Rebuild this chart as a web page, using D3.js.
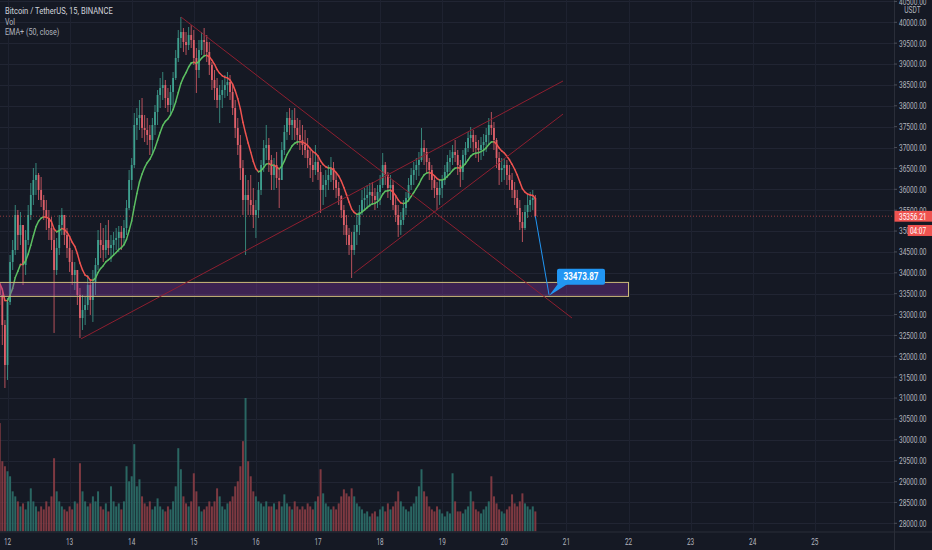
<!DOCTYPE html>
<html>
<head>
<meta charset="utf-8">
<script src="https://cdn.jsdelivr.net/npm/d3@7"></script>
<style>
  html, body { margin: 0; padding: 0; background: #151924; }
  svg { display: block; }
</style>
</head>
<body>
<svg id="chart" width="932" height="550"></svg>
<script>
const W = 932, H = 550;
const PLOT_R = 894, PLOT_B = 531.5;

// First bar opens Jun 11 21:00; one bar per hour after that.
const START_DAY = 11.875;
const FIRST_OPEN = 33700;

const HIGH = [
  33756, 33588, 32870, 33397, 34427, 34786, 35624, 35504, 35457, 35145,
  35025, 35624, 36151, 36510, 36630, 36391, 36295, 35864, 35744, 35504,
  35337, 35025, 34834, 35385, 35552, 35385, 35073, 34834, 34546, 34259,
  34067, 33636, 33469, 33421, 33948, 33828, 34067, 34355, 35025, 35193,
  35073, 35145, 35265, 34906, 34978, 35073, 35121, 35121, 35265, 35744,
  36462, 36750, 37828, 37947, 38139, 38187, 37780, 37708, 37540, 37708,
  38019, 38378, 38666, 38810, 38618, 38426, 38498, 38810, 39336, 39815,
  40127, 39863, 39768, 39887, 39935, 39815, 39384, 39576, 39768, 39863,
  39696, 39528, 39049, 38857, 38666, 38498, 38618, 38738, 38810, 38738,
  38498, 38139, 37708, 37301, 36702, 36343, 36223, 36343, 36031, 35744,
  36175, 36702, 37181, 37540, 37229, 36822, 36750, 36894, 36462, 37133,
  37540, 37852, 37947, 37899, 37947, 37708, 37660, 37540, 37420, 37229,
  36989, 36894, 37061, 36822, 36582, 36343, 36462, 36582, 36774, 36654,
  36415, 36175, 35864, 35624, 35385, 35073, 34978, 35145, 35385, 35624,
  35983, 36031, 36103, 36151, 36175, 36031, 36103, 36343, 36870, 36654,
  36415, 36343, 36223, 35864, 35624, 35457, 35744, 35936, 36271, 36510,
  36654, 36750, 36894, 37468, 37181, 36989, 36750, 36582, 36343, 36175,
  36223, 36343, 36582, 36822, 36941, 37061, 37181, 36941, 36702, 36941,
  37133, 37373, 37492, 37420, 37301, 37181, 37253, 37325, 37468, 37708,
  37852, 37612, 37229, 36894, 36750, 36750, 36702, 36582, 36391, 36175,
  35983, 35744, 35457, 35624, 35864, 35936, 35983, 35864
];

const LOW = [
  33229, 32271, 31241, 31433, 33229, 34067, 34427, 34546, 34666, 33708,
  33948, 34666, 35265, 35624, 35864, 35744, 35576, 35265, 35025, 34786,
  34546, 32559, 33948, 34427, 34906, 34666, 34355, 34020, 33708, 33588,
  33229, 32439, 32630, 32750, 33109, 32990, 32822, 33469, 34067, 34355,
  34259, 34355, 34427, 34259, 34427, 34546, 34499, 34546, 34666, 34906,
  35504, 35983, 36510, 37181, 37420, 37229, 37133, 37061, 36822, 36822,
  37301, 37540, 37947, 38139, 37947, 37852, 37780, 37899, 38618, 39049,
  39384, 39289, 39217, 39336, 39384, 38977, 38307, 38666, 39217, 39217,
  39049, 38738, 38378, 38139, 37947, 37588, 37947, 38187, 38235, 38139,
  37780, 37229, 36822, 36223, 35385, 34427, 35385, 35385, 35073, 34834,
  35313, 35864, 36415, 36702, 36415, 35983, 35983, 36031, 35552, 36223,
  36822, 37181, 37301, 37181, 37181, 37061, 36941, 36822, 36750, 36510,
  36271, 36175, 36343, 36223, 35433, 35624, 35816, 35983, 36175, 35983,
  35792, 35624, 35313, 34906, 34666, 34427, 33876, 34427, 34666, 34906,
  35385, 35504, 35552, 35576, 35624, 35504, 35552, 35624, 36031, 36103,
  35792, 35744, 35504, 35217, 34858, 34906, 35145, 35385, 35696, 35983,
  36103, 36223, 36319, 36654, 36582, 36415, 36223, 35983, 35792, 35504,
  35624, 35792, 36103, 36271, 36415, 36582, 36654, 36343, 36055, 36223,
  36582, 36894, 36989, 36894, 36750, 36654, 36702, 36798, 36894, 37061,
  37301, 36941, 36510, 36103, 36175, 36223, 36103, 35983, 35792, 35624,
  35385, 35025, 34738, 35025, 35313, 35457, 35504, 35313
];

const CLOSE = [
  33469, 32750, 31792, 33301, 34259, 34546, 35385, 34906, 35145, 34187,
  34786, 35385, 35864, 36223, 36343, 35983, 35744, 35504, 35313, 35073,
  34786, 34067, 34594, 35145, 35385, 34906, 34594, 34259, 33948, 34067,
  33469, 32918, 33109, 33229, 33708, 33349, 33780, 34187, 34786, 34666,
  34546, 34786, 34594, 34666, 34786, 34834, 34978, 34834, 35073, 35552,
  36223, 36582, 37540, 37708, 37780, 37468, 37420, 37301, 37181, 37540,
  37852, 38259, 38426, 38498, 38187, 38019, 38331, 38666, 39145, 39624,
  39768, 39528, 39456, 39696, 39576, 39145, 38857, 39336, 39576, 39528,
  39289, 38977, 38618, 38426, 38139, 38259, 38378, 38498, 38570, 38331,
  37947, 37468, 37061, 36510, 35744, 35864, 35744, 35624, 35385, 35504,
  35983, 36582, 36989, 37061, 36702, 36343, 36582, 36271, 36223, 36941,
  37373, 37708, 37540, 37660, 37468, 37301, 37181, 37061, 36941, 36750,
  36582, 36462, 36654, 36415, 35983, 36103, 36223, 36343, 36510, 36223,
  36031, 35840, 35504, 35145, 34906, 34666, 34546, 34978, 35145, 35457,
  35744, 35792, 35864, 35936, 35840, 35744, 35936, 36103, 36582, 36343,
  36031, 36103, 35624, 35385, 35145, 35265, 35552, 35792, 36103, 36343,
  36462, 36582, 36702, 36989, 36894, 36654, 36462, 36223, 36031, 35864,
  36031, 36223, 36415, 36654, 36750, 36894, 36822, 36582, 36415, 36822,
  36989, 37229, 37301, 37133, 36989, 36941, 37061, 37133, 37301, 37540,
  37468, 37181, 36750, 36462, 36510, 36582, 36343, 36223, 35983, 35792,
  35552, 35217, 35073, 35457, 35624, 35744, 35792, 35356.21
];

// volume per bar, hundreds of BTC
const VOLUME = [
  108, 70, 65, 60, 55, 40, 35, 30, 25, 28,
  22, 30, 43, 30, 25, 20, 25, 22, 30, 25,
  35, 73, 40, 30, 25, 22, 20, 25, 22, 30,
  28, 68, 40, 30, 25, 28, 35, 30, 40, 25,
  22, 28, 20, 45, 30, 25, 28, 22, 30, 65,
  50, 55, 87, 45, 52, 35, 28, 25, 30, 22,
  25, 33, 25, 22, 20, 25, 22, 30, 45, 83,
  62, 35, 28, 25, 30, 58, 40, 25, 20, 22,
  25, 30, 25, 30, 43, 35, 25, 22, 28, 30,
  35, 45, 50, 65, 90, 133, 70, 55, 40, 35,
  30, 28, 25, 30, 25, 25, 28, 22, 30, 25,
  37, 28, 25, 22, 30, 25, 22, 25, 22, 28,
  25, 22, 30, 35, 62, 38, 28, 25, 22, 25,
  22, 28, 35, 42, 38, 35, 43, 35, 28, 25,
  22, 18, 20, 15, 18, 20, 15, 22, 25, 20,
  28, 22, 25, 30, 40, 30, 25, 22, 20, 25,
  28, 35, 45, 62, 40, 35, 25, 22, 20, 25,
  22, 18, 15, 20, 18, 58, 30, 20, 20, 18,
  22, 25, 40, 30, 22, 20, 18, 22, 25, 30,
  55, 35, 28, 22, 20, 18, 22, 25, 37, 28,
  25, 30, 38, 28, 25, 22, 25, 20
];

const EMA_LEN = 50;          // EMA+ (50, close) on 15m bars
const EMA_SEED = 33800;      // EMA value at the left edge
const LAST_PRICE = 35356.21;
const COUNTDOWN = '04:07';

const PRICE_TICKS = d3.range(28000, 40501, 500);
const DAY_TICKS = d3.range(12, 26);

// drawings: [day, price]
const TREND_LINES = [
  [[14.794, 40127], [21.09, 32917]],
  [[13.184, 32417], [20.945, 38594]],
  [[17.58, 33994], [20.945, 37802]],
];
const ZONE = { from: 11.5, to: 22.0, top: 33770, bottom: 33435 };
const TARGET = { day: 20.72, price: 33473.87 };

const TITLE = 'Bitcoin / TetherUS, 15, BINANCE';

// ---------------------------------------------------------------
const svg = d3.select('#chart');
const FONT = 'Roboto, "Noto Sans", sans-serif';

const x = d3.scaleLinear().domain([12, 25]).range([7.5, 814.8]);
const y = d3.scaleLinear().domain([28000, 40000]).range([523.3, 22.3]);
const yVol = d3.scaleLinear().domain([0, d3.max(VOLUME)]).range([PLOT_B, 398]);

const bars = CLOSE.map((c, i) => {
  const o = i ? CLOSE[i - 1] : FIRST_OPEN;
  return {
    t: START_DAY + i / 24,
    o, c,
    h: Math.max(HIGH[i], o, c),
    l: Math.min(LOW[i], o, c),
    v: VOLUME[i],
  };
});

// 50 bars of 15m = same smoothing as alpha compounded over 4 steps per hour
const alpha = 1 - Math.pow(1 - 2 / (EMA_LEN + 1), 4);
let e = EMA_SEED;
const ema = bars.map(b => (e = e + alpha * (b.c - e)));

svg.append('rect').attr('width', W).attr('height', H).attr('fill', '#151924');

svg.append('defs').append('clipPath').attr('id', 'plot-clip')
  .append('rect').attr('x', 0).attr('y', 0).attr('width', PLOT_R).attr('height', PLOT_B);

const plot = svg.append('g').attr('clip-path', 'url(#plot-clip)');

// grid
plot.selectAll('line.hgrid').data(PRICE_TICKS).join('line')
  .attr('class', 'hgrid')
  .attr('x1', 0).attr('x2', PLOT_R)
  .attr('y1', d => Math.round(y(d)) + 0.5).attr('y2', d => Math.round(y(d)) + 0.5)
  .attr('stroke', '#212533').attr('stroke-width', 1);

plot.selectAll('line.vgrid').data(DAY_TICKS).join('line')
  .attr('class', 'vgrid')
  .attr('x1', d => Math.round(x(d)) + 0.5).attr('x2', d => Math.round(x(d)) + 0.5)
  .attr('y1', 0).attr('y2', PLOT_B)
  .attr('stroke', '#1e2230').attr('stroke-width', 1);

const step = x(12 + 1 / 24) - x(12);
const UP = '#3fa08f', DOWN = '#e0606a';

// volume
plot.append('g').selectAll('rect').data(bars).join('rect')
  .attr('x', d => x(d.t) - step / 2 + 0.3)
  .attr('width', step - 0.6)
  .attr('y', d => yVol(d.v))
  .attr('height', d => PLOT_B - yVol(d.v))
  .attr('fill', d => d.c >= d.o ? '#2c6f69' : '#8a3d45')
  .attr('opacity', 0.9);

// candles
const cg = plot.append('g');
cg.selectAll('line').data(bars).join('line')
  .attr('x1', d => x(d.t)).attr('x2', d => x(d.t))
  .attr('y1', d => y(d.h)).attr('y2', d => y(d.l))
  .attr('stroke', d => d.c >= d.o ? UP : DOWN)
  .attr('stroke-width', 0.8);
cg.selectAll('rect').data(bars).join('rect')
  .attr('x', d => x(d.t) - 0.9)
  .attr('width', 1.8)
  .attr('y', d => y(Math.max(d.o, d.c)))
  .attr('height', d => Math.max(0.8, Math.abs(y(d.o) - y(d.c))))
  .attr('fill', d => d.c >= d.o ? UP : DOWN);

// EMA, coloured by slope
const emaSeg = d3.range(1, bars.length).map(i => ({ a: i - 1, b: i, up: ema[i] >= ema[i - 1] }));
plot.append('g').selectAll('line').data(emaSeg).join('line')
  .attr('x1', d => x(bars[d.a].t)).attr('y1', d => y(ema[d.a]))
  .attr('x2', d => x(bars[d.b].t)).attr('y2', d => y(ema[d.b]))
  .attr('stroke', d => d.up ? '#5cbf62' : '#ef5350')
  .attr('stroke-width', 1.5)
  .attr('stroke-linecap', 'round');

// zone
plot.append('rect')
  .attr('x', x(ZONE.from)).attr('width', x(ZONE.to) - x(ZONE.from))
  .attr('y', y(ZONE.top)).attr('height', y(ZONE.bottom) - y(ZONE.top))
  .attr('fill', '#8e3ab0').attr('fill-opacity', 0.32)
  .attr('stroke', '#cdbb7a').attr('stroke-width', 1);

// trend lines
plot.append('g').selectAll('line').data(TREND_LINES).join('line')
  .attr('x1', d => x(d[0][0])).attr('y1', d => y(d[0][1]))
  .attr('x2', d => x(d[1][0])).attr('y2', d => y(d[1][1]))
  .attr('stroke', '#8e1f30').attr('stroke-width', 1);

// last price line
plot.append('line')
  .attr('x1', 0).attr('x2', PLOT_R)
  .attr('y1', y(LAST_PRICE)).attr('y2', y(LAST_PRICE))
  .attr('stroke', '#ef5350').attr('stroke-opacity', 0.6)
  .attr('stroke-dasharray', '1,2');

// projection to target + label
const last = bars[bars.length - 1];
const tx = x(TARGET.day), ty = y(TARGET.price);
plot.append('line')
  .attr('x1', x(last.t)).attr('y1', y(last.c))
  .attr('x2', tx).attr('y2', ty)
  .attr('stroke', '#2196f3').attr('stroke-width', 1);

const bx = tx + 8, by = ty - 26, bw = 48, bh = 16;
plot.append('path')
  .attr('d', `M${tx},${ty + 1}L${bx + 1},${by + bh - 1}L${bx + 11},${by + bh - 1}Z`)
  .attr('fill', '#2196f3');
plot.append('rect')
  .attr('x', bx).attr('y', by).attr('width', bw).attr('height', bh).attr('rx', 2)
  .attr('fill', '#2196f3');
plot.append('text')
  .attr('x', bx + bw / 2).attr('y', by + bh / 2 + 3.6)
  .attr('text-anchor', 'middle')
  .attr('font-family', FONT).attr('font-size', 10.5).attr('font-weight', 700)
  .attr('fill', '#ffffff')
  .attr('textLength', 35).attr('lengthAdjust', 'spacingAndGlyphs')
  .text(TARGET.price.toFixed(2));

// axes frame
svg.append('line').attr('x1', PLOT_R + 0.5).attr('x2', PLOT_R + 0.5).attr('y1', 0).attr('y2', H)
  .attr('stroke', '#2a2e39');
svg.append('line').attr('x1', 0).attr('x2', W).attr('y1', PLOT_B + 0.5).attr('y2', PLOT_B + 0.5)
  .attr('stroke', '#2a2e39');

// price scale: small font stretched vertically, the screenshot is squeezed sideways
const SQ = 1.35;
function scaleLabel(g, s, x0, yc, fill) {
  g.append('text')
    .attr('transform', `translate(${x0},${yc}) scale(1,${SQ})`)
    .attr('y', 2.5)
    .attr('font-family', FONT).attr('font-size', 7)
    .attr('fill', fill)
    .attr('textLength', 27.5).attr('lengthAdjust', 'spacingAndGlyphs')
    .text(s);
}

const axis = svg.append('g');
axis.selectAll('line').data(PRICE_TICKS).join('line')
  .attr('x1', PLOT_R).attr('x2', PLOT_R + 3)
  .attr('y1', d => y(d)).attr('y2', d => y(d))
  .attr('stroke', '#4a4e59');
PRICE_TICKS.forEach(d => scaleLabel(axis, d.toFixed(2), 899, y(d), '#b2b5be'));

svg.append('text')
  .attr('transform', `translate(912.5,9.5) scale(1,${SQ})`)
  .attr('y', 2.3).attr('text-anchor', 'middle')
  .attr('font-family', FONT).attr('font-size', 6.6)
  .attr('fill', '#b2b5be')
  .text('USDT');

// last price badge + countdown
const ly = y(LAST_PRICE);
const badge = svg.append('g');
badge.append('rect').attr('x', PLOT_R + 0.5).attr('y', ly - 5.3).attr('width', W - PLOT_R).attr('height', 10.8)
  .attr('fill', '#ef5350');
scaleLabel(badge, LAST_PRICE.toFixed(2), 899, ly, '#ffffff');
badge.append('rect').attr('x', 907.7).attr('y', ly + 8.8).attr('width', W - 907.7).attr('height', 11)
  .attr('fill', '#ef5350');
badge.append('text')
  .attr('transform', `translate(910,${ly + 14.3}) scale(1,${SQ})`)
  .attr('y', 2.5)
  .attr('font-family', FONT).attr('font-size', 7)
  .attr('fill', '#ffffff')
  .attr('textLength', 16).attr('lengthAdjust', 'spacingAndGlyphs')
  .text(COUNTDOWN);

// time scale
svg.append('g').selectAll('text').data(DAY_TICKS).join('text')
  .attr('x', d => x(d)).attr('y', 545)
  .attr('text-anchor', 'middle')
  .attr('font-family', FONT).attr('font-size', 9.5)
  .attr('fill', '#b2b5be')
  .attr('textLength', 7.2).attr('lengthAdjust', 'spacingAndGlyphs')
  .text(d => d);

// legend
const legend = [
  { s: TITLE, y: 13.5, w: 107.7, fill: '#d1d4dc' },
  { s: 'Vol', y: 24.5, w: 10, fill: '#b2b5be' },
  { s: 'EMA+ (50, close)', y: 35, w: 54.3, fill: '#b2b5be' },
];
svg.append('g').selectAll('text').data(legend).join('text')
  .attr('x', 5).attr('y', d => d.y)
  .attr('font-family', FONT).attr('font-size', 9.5)
  .attr('fill', d => d.fill)
  .attr('textLength', d => d.w).attr('lengthAdjust', 'spacingAndGlyphs')
  .text(d => d.s);
</script>
</body>
</html>
